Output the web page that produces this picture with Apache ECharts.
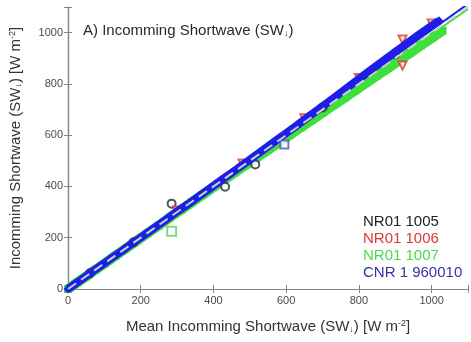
<!DOCTYPE html>
<html>
<head>
<meta charset="utf-8">
<script src="https://cdn.jsdelivr.net/npm/echarts@6/dist/echarts.min.js"></script>
<style>
  html, body { margin: 0; padding: 0; background: #fff; }
  #chart { width: 471px; height: 342px; }
</style>
</head>
<body>
<div id="chart"></div>
<script>
// axis range
const axisMax = 1100;

// sensor names (legend)
const names = ["NR01 1005", "NR01 1006", "NR01 1007", "CNR 1 960010"];

// [mean SW, sensor SW]
const nr1005 = [
  [60, 61], [180, 182], [285, 333], [432, 399], [515, 486], [700, 708], [900, 915]
];
const nr1006 = [
  [300, 306], [480, 490], [650, 666], [800, 823], [920, 973], [920, 872], [1000, 1036]
];
const nr1007 = [
  [0, 0], [25, 25], [50, 49], [75, 75], [100, 99], [130, 129], [160, 159],
  [190, 189], [220, 219], [250, 248], [280, 279], [310, 308], [340, 338],
  [370, 367], [400, 397], [430, 427], [460, 456], [490, 485], [520, 514],
  [550, 543], [580, 572], [610, 601], [640, 630], [670, 659], [700, 688],
  [730, 717], [760, 746], [790, 775], [820, 804], [850, 833], [880, 862],
  [910, 891], [940, 920], [970, 950], [1000, 979], [1030, 1008]
];
const nr1007Outliers = [[285, 225]];
const cnr1 = [
  [0, 0], [20, 20], [45, 45], [70, 71], [95, 95], [120, 121], [150, 150],
  [180, 181], [210, 211], [240, 241], [270, 271], [300, 302], [330, 331],
  [360, 362], [390, 392], [420, 423], [450, 453], [480, 484], [510, 515],
  [540, 546], [570, 577], [600, 608], [630, 639], [660, 671], [690, 702],
  [720, 734], [750, 766], [780, 798], [810, 830], [840, 862], [870, 893],
  [900, 925], [930, 956], [960, 987], [990, 1017], [1020, 1046]
];
const cnr1Outliers = [[595, 564]];

// reference lines
const oneToOne = [[0, 0], [1100, 1100]];
const cnrFit = [[0, 0], [1100, 1112]];
const nr1007Fit = [[0, 0], [1100, 1092]];

const colors = {
  black: "#2a2a2a",
  red: "#e03434",
  green: "#3ee03e",
  blue: "#1e1ee8",
};

const font = "Liberation Sans, Arial, sans-serif";
const axisGray = "#858585";

const rich = {
  sup: { fontSize: 9, verticalAlign: "top", fontFamily: font, color: "#333" },
  sub: { fontSize: 9, verticalAlign: "bottom", fontFamily: font, color: "#333" },
};

const chart = echarts.init(document.getElementById("chart"), null, { renderer: "canvas" });

const baseAxis = {
  type: "value",
  min: 0,
  max: axisMax,
  interval: 200,
  axisLine: { show: true, lineStyle: { color: axisGray, width: 1.2 } },
  axisTick: { show: true, inside: true, length: 4, lineStyle: { color: axisGray } },
  splitLine: { show: false },
};

const tickLabel = (v) => (v >= axisMax ? "" : String(v));

const option = {
  animation: false,
  textStyle: { fontFamily: font },
  grid: { left: 67, top: 7, width: 405, height: 282, containLabel: false },
  title: {
    text: "A) Incomming Shortwave (SW{sub|↓})",
    left: 78,
    top: 18,
    textStyle: {
      fontSize: 15,
      fontWeight: "normal",
      color: "#2a2a2a",
      fontFamily: font,
      rich: { sub: { fontSize: 9, verticalAlign: "bottom", color: "#2a2a2a" } },
    },
  },
  legend: {
    orient: "vertical",
    left: 353,
    top: 209,
    itemWidth: 0,
    itemHeight: 14,
    itemGap: 2,
    selectedMode: false,
    textStyle: { fontSize: 15, fontFamily: font },
    data: [
      { name: names[0], icon: "none", textStyle: { color: "#222" } },
      { name: names[1], icon: "none", textStyle: { color: "#d83a3a" } },
      { name: names[2], icon: "none", textStyle: { color: "#4cd84c" } },
      { name: names[3], icon: "none", textStyle: { color: "#3434a8" } },
    ],
  },
  xAxis: [
    {
      ...baseAxis,
      position: "bottom",
      axisLabel: { color: "#4a4a4a", fontSize: 11, margin: 6, formatter: tickLabel },
      name: "Mean Incomming Shortwave (SW{sub|↓}) [W m{sup|-2}]",
      nameLocation: "middle",
      nameGap: 30,
      nameTextStyle: { fontSize: 15, color: "#333", fontFamily: font, rich },
    },
    {
      ...baseAxis,
      position: "top",
      axisLabel: { show: false },
    },
  ],
  yAxis: [
    {
      ...baseAxis,
      position: "left",
      axisLabel: { color: "#4a4a4a", fontSize: 11, margin: 5, formatter: tickLabel },
      name: "Incomming Shortwave (SW{sub|↓}) [W m{sup|-2}]",
      nameLocation: "middle",
      nameGap: 45,
      nameTextStyle: { fontSize: 15, color: "#333", fontFamily: font, rich },
    },
    {
      ...baseAxis,
      position: "right",
      axisLabel: { show: false },
    },
  ],
  series: [
    {
      name: "cnrFit",
      type: "line",
      data: cnrFit,
      showSymbol: false,
      lineStyle: { color: colors.blue, width: 2 },
      z: 1,
    },
    {
      name: "nr1007Fit",
      type: "line",
      data: nr1007Fit,
      showSymbol: false,
      lineStyle: { color: colors.green, width: 2 },
      z: 1,
    },
    {
      name: names[2],
      type: "line",
      data: nr1007,
      symbol: "rect",
      symbolSize: 8,
      lineStyle: { color: colors.green, width: 10 },
      itemStyle: { color: colors.green },
      z: 2,
    },
    {
      name: names[2] + " outlier",
      type: "scatter",
      data: nr1007Outliers,
      symbol: "emptyRect",
      symbolSize: 9,
      itemStyle: { color: "#66cc66", borderWidth: 1.3 },
      z: 2,
    },
    {
      name: names[0],
      type: "scatter",
      data: nr1005,
      symbol: "emptyCircle",
      symbolSize: 8,
      itemStyle: { color: colors.black, borderWidth: 1.2 },
      z: 3,
    },
    {
      name: names[1],
      type: "scatter",
      data: nr1006,
      symbol: "emptyTriangle",
      symbolSize: 8,
      symbolRotate: 180,
      itemStyle: { color: colors.red, borderWidth: 1.2 },
      z: 3,
    },
    {
      name: names[3],
      type: "line",
      data: cnr1,
      symbol: "diamond",
      symbolSize: 9,
      lineStyle: { color: colors.blue, width: 8 },
      itemStyle: { color: colors.blue },
      z: 4,
    },
    {
      name: names[3] + " outlier",
      type: "scatter",
      data: cnr1Outliers,
      symbol: "emptyRect",
      symbolSize: 8,
      itemStyle: { color: "#5050c0", borderWidth: 1.2 },
      z: 4,
    },
    {
      name: "1:1",
      type: "line",
      data: oneToOne,
      showSymbol: false,
      lineStyle: { color: "#c8d0d0", width: 2, type: [10, 6] },
      z: 5,
    },
  ],
};

chart.setOption(option);
</script>
</body>
</html>
